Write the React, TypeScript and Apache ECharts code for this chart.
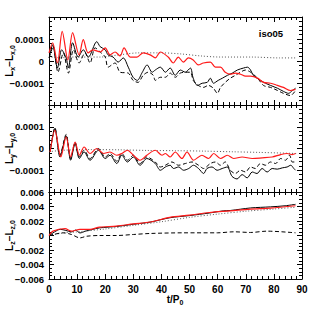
import React, { useEffect, useRef } from "react";
import * as echarts from "echarts";

// Panel 1: L_x - L_x,0 (units of 1e-5), pairs [t/P0, value]
const lxSolid = [[0.1,1.4],[1.3,7.4],[3.0,-3.2],[4.5,5.1],[6.1,1.4],[6.9,-3.2],[8.4,8.3],[10.4,1.8],[12.2,5.1],[14,1.8],[17,8.8],[18.2,6.5],[20,5.1],[21,2.8],[22.8,1.8],[24.6,-0.5],[26.4,1.4],[28.2,-2.8],[29.9,-7.4],[31.4,-8.8],[33.2,-5.1],[34.9,-1.8],[36.7,-5.1],[37.8,-4.1],[39.6,-2.8],[41.4,-5.1],[43.1,-3.2],[44.9,-6.5],[46.7,-4.1],[48.5,-5.1],[50.3,-3.2],[51.3,-7.8],[52.8,-11.1],[54.5,-10.1],[56.3,-9.7],[57.4,-7.8],[58.5,-10.1],[60.2,-8.8],[61.7,-7.8],[63.5,-6.5],[65.2,-5.5],[67,-4.1],[69.2,-3.2],[70.6,-2.8],[71.7,-4.1],[72.7,-6.5],[75.2,-8.8],[77,-10.1],[78.8,-11.1],[81.3,-12.4],[83.4,-13.8],[85.2,-14.7],[86.6,-13.4],[87.7,-12.4]];
const lxDashed = [[0,1.4],[1.5,6.5],[3.2,-5.1],[5.1,3.7],[6.9,-5.5],[8.7,5.1],[10.7,-0.9],[12.8,3.7],[14.6,-0.9],[16.4,6],[18.2,4.1],[20,1.8],[21,-2.8],[23.5,-0.9],[25.3,-5.1],[28.2,-5.5],[29.9,-8.8],[31.7,-9.7],[33.5,-6.5],[35.3,-5.1],[37.1,-6.5],[37.8,-8.8],[39.6,-7.4],[41.4,-7.4],[43.1,-5.5],[44.9,-7.4],[46.7,-5.5],[48.5,-5.1],[50.3,-5.1],[51.3,-8.8],[53.1,-11.1],[54.9,-12],[56.7,-11.1],[58.5,-12.4],[59.9,-14.7],[61,-12],[62.7,-9.7],[64.5,-7.8],[66.3,-6.5],[68.1,-5.1],[69.9,-4.1],[71.7,-5.1],[74.2,-7.8],[76.3,-11.1],[78.8,-12],[81.3,-13.4],[83.4,-14.7],[85.9,-15.7],[87.7,-13.4]];
const lxDotted = [[0,0.9],[1.4,1.8],[3.9,1.4],[7.5,1.8],[11,1.8],[18,1.8],[25,2.8],[32,3.7],[40,3.7],[47,3.2],[54,2.3],[61,1.8],[72,1.8],[82,1.4],[88,1.4]];
const lxRed = [[0,3.7],[1.3,8.3],[3.0,-0.9],[4.7,13.5],[6.7,0.5],[8.4,12.9],[10.7,2.8],[12.2,9.7],[13.9,3.7],[15.6,5.1],[18.2,4.1],[20,6],[21.7,2.8],[23.5,4.1],[25.3,2.3],[26.7,6],[28.9,1.8],[31.3,1.8],[33.5,3.7],[36,2.8],[37.8,1.4],[39.6,4.1],[42.4,1.8],[44.2,-0.9],[46,1.8],[47.8,-0.5],[49.6,1.4],[51.3,0.5],[53.1,-1.8],[54.9,-0.9],[57.4,-0.5],[59.2,-2.8],[61,-2.8],[62.7,-5.1],[64.5,-6],[66.3,-5.5],[68.1,-6],[69.9,-6.9],[71.7,-6.9],[74.2,-7.8],[76.3,-9.7],[78.8,-10.1],[81.3,-11.1],[83.4,-12],[85.9,-13.4],[87.7,-12.9]];

// Panel 2: L_y - L_y,0 (units of 1e-5)
const lySolid = [[0.4,-1.6],[2.1,9.2],[3.9,-3.9],[6.1,5.8],[7.7,-5.4],[9.3,2.3],[10.8,-4.6],[12.5,-1.6],[14.6,-5.4],[17.6,-0.8],[20,-4.6],[21.7,-3.1],[24.1,-6.9],[25.9,-3.1],[27.9,-6.2],[30,-3.9],[32.4,-7.7],[34.8,-4.6],[37.8,-6.9],[39.6,-10],[41.4,-8.5],[43.1,-7.7],[44.3,-9.2],[46.1,-8.5],[47.9,-10],[49.7,-9.2],[51.4,-7.7],[53.2,-9.2],[55,-11.5],[56.2,-9.2],[58,-8.5],[59.8,-10],[61.6,-9.2],[63.4,-8.5],[65.1,-12.8],[66.9,-14],[68.7,-12],[70.5,-13.5],[72.3,-10.8],[74,-11.5],[75.8,-9.2],[77.6,-10.8],[79.4,-9.2],[81.2,-9.5],[83,-8.9],[84.7,-8.5],[86,-7.7],[87.1,-9.2],[87.7,-10]];
const lyDashed = [[0.4,-1.6],[2.1,9.6],[3.9,-3.1],[6.1,6.5],[7.7,-4.6],[9.3,2.8],[10.8,-3.9],[12.5,-0.8],[14.6,-4.6],[17.6,0],[20,-3.9],[21.7,-2.3],[24.1,-5.8],[25.9,-2.3],[27.9,-5.4],[30,-3.1],[32.4,-6.9],[34.8,-3.9],[37.8,-6.2],[39.6,-8.5],[41.4,-7.7],[43.7,-6.2],[46.1,-7.7],[48.5,-6.9],[50.9,-6.2],[53.2,-7.7],[55,-9.2],[57.4,-6.9],[59.2,-6.2],[61,-7.7],[62.7,-6.2],[64.5,-10],[66.3,-11.5],[68.1,-10],[69.9,-10.8],[71.7,-8.5],[73.4,-9.2],[75.2,-6.9],[77,-7.7],[78.8,-6.2],[80.6,-6.9],[82.4,-4.6],[84.1,-5.4],[85.6,-3.1],[86.5,-6.2],[87.7,-6.2]];
const lyDotted = [[0,-1.5],[5,-0.8],[15,-0.5],[25,-0.6],[35,-0.9],[45,-1],[55,-1.2],[65,-1.5],[75,-1.8],[88,-2.3]];
const lyRed = [[0.4,-1.6],[2.1,8.4],[4.2,-3.9],[6.1,5.4],[7.7,-3.9],[9.3,3.0],[10.8,-3.1],[12.5,0.7],[14.6,-2.3],[17,0],[19.4,-2.3],[21.7,-1.6],[24.1,-3.1],[25.9,-2.3],[27.9,-0.8],[30,-3.1],[32.4,-5.4],[34.8,-3.1],[37.8,-0.8],[40.2,-3.1],[41.4,-2.3],[43.1,-3.9],[44.9,-1.6],[47.3,-4.6],[49.1,-1.6],[51.4,-5.4],[54.4,-3.1],[56.8,-4.6],[58.6,-2.3],[61,-4.6],[63.4,-3.1],[65.7,-4.6],[68.7,-3.9],[72.3,-4.6],[75.8,-4.3],[79.4,-3.9],[82.4,-2.8],[84.7,-2.3],[86.5,-2.8],[87.7,-2.3]];

// Panel 3: L_z - L_z,0 (units of 1e-3)
const lzSolid = [[0,0],[2,0.5],[4,0.85],[6,0.7],[8,0.5],[9.5,0.75],[11,0.35],[13,0.6],[15,0.8],[18,1.05],[24,1.25],[30,1.55],[36,1.85],[43,2.45],[50,2.75],[57,3.1],[62,3.4],[64.5,3.45],[71.7,3.8],[78.8,3.95],[84,4.1],[87.7,4.3]];
const lzDashed = [[0,0],[1.5,0.14],[5.1,0.37],[8,0.14],[11,-0.33],[13.4,-0.1],[18,0],[24,0],[30,0.14],[36,0.28],[48,0.37],[60,0.37],[65.7,0.51],[71.7,0.42],[77.6,0.6],[87.7,0.37]];
const lzDotted = [[0,0],[5,0.35],[10,0.5],[20,0.9],[30,1.4],[40,1.9],[50,2.5],[60,2.95],[70,3.35],[80,3.65],[87.7,3.9]];
const lzRed = [[0,0],[1.4,0.6],[5.7,0.94],[8,0.6],[11,0.84],[14.6,0.84],[18,1.16],[24,1.3],[30,1.6],[36,1.86],[43,2.5],[50,2.8],[57,3.17],[64.5,3.4],[71.7,3.64],[78.8,3.78],[87.7,4.1]];

const xTicks = { min: 0, max: 90, interval: 10 };
const panelNames = [["x", "x,0"], ["y", "y,0"], ["z", "z,0"]];

const FONT = "'Liberation Sans', Arial, sans-serif";

export default function App() {
  const ref = useRef<HTMLDivElement>(null);
  useEffect(() => {
    if (!ref.current) return;
    const chart = echarts.init(ref.current, null, { renderer: "svg" });
    const grids = [
      { left: 49, right: 17, top: 17, height: 88 },
      { left: 49, right: 17, top: 105, height: 87 },
      { left: 49, right: 17, top: 192, height: 87 },
    ];
    const axisLine = { show: true, onZero: false, lineStyle: { color: "#000", width: 1 } };
    const tick = { show: true, inside: true, length: 5, lineStyle: { color: "#000", width: 1 } };
    const labelStyle = { color: "#000", fontFamily: FONT, fontSize: 9.5, fontWeight: "bold" as const };

    const xAxes: any[] = [];
    const yAxes: any[] = [];
    grids.forEach((g, i) => {
      ["bottom", "top"].forEach((pos) => {
        xAxes.push({
          gridIndex: i,
          type: "value",
          position: pos,
          ...xTicks,
          axisLine,
          axisTick: tick,
          minorTick: { show: true, splitNumber: 5, length: 3, lineStyle: { color: "#000", width: 1 } },
          splitLine: { show: false },
          minorSplitLine: { show: false },
          axisLabel: { show: i === 2 && pos === "bottom", margin: 5, ...labelStyle, fontSize: 10 },
        });
      });
      const isZ = i === 2;
      ["left", "right"].forEach((pos) => {
        yAxes.push({
          gridIndex: i,
          type: "value",
          position: pos,
          min: isZ ? -6 : -20,
          max: isZ ? 6 : 20,
          interval: isZ ? 2 : 10,
          axisLine,
          axisTick: tick,
          minorTick: { show: true, splitNumber: isZ ? 4 : 5, length: 3, lineStyle: { color: "#000", width: 1 } },
          splitLine: { show: false },
          minorSplitLine: { show: false },
          axisLabel: {
            show: pos === "left",
            margin: 5,
            ...labelStyle,
            formatter: (v: number) => {
              if (!isZ && Math.abs(Math.abs(v) - 20) < 1e-6) return "";
              if (Math.abs(v) < 1e-9) return "0";
              const s = isZ ? Math.abs(v / 1000).toFixed(3) : Math.abs(v / 1e5).toFixed(4);
              return (v < 0 ? "\u2212" : "") + s;
            },
          },
        });
      });
    });

    const mk = (data: number[][], panel: number, kind: string) => {
      const style: any = { width: 1, color: "#000", type: "solid" };
      if (kind === "dashed") style.type = [4, 2.5];
      if (kind === "dotted") { style.type = [1, 2]; style.color = "#444"; style.width = 0.9; }
      if (kind === "red") { style.color = "#ff1a1a"; style.width = 1.2; }
      return {
        type: "line",
        xAxisIndex: panel * 2,
        yAxisIndex: panel * 2,
        data,
        showSymbol: false,
        symbol: "none",
        smooth: 0.3,
        lineStyle: style,
        z: kind === "red" ? 5 : 3,
      };
    };
    const panels = [
      [lxDotted, lxDashed, lxSolid, lxRed],
      [lyDotted, lyDashed, lySolid, lyRed],
      [lzDotted, lzDashed, lzSolid, lzRed],
    ];
    const kinds = ["dotted", "dashed", "solid", "red"];
    const series: any[] = [];
    panels.forEach((p, i) => p.forEach((d, k) => series.push(mk(d, i, kinds[k]))));

    const centers = [61, 148.5, 235.5];
    const rich = {
      m: { fontSize: 10, fontFamily: FONT, fontWeight: "bold", fill: "#000", lineHeight: 14, verticalAlign: "middle" },
      s: { fontSize: 7, fontFamily: FONT, fontWeight: "bold", fill: "#000", lineHeight: 14, verticalAlign: "bottom", padding: [5, 0, 0, 0] },
    };
    const graphic: any[] = panelNames.map((n, i) => ({
      type: "text",
      x: 9,
      y: centers[i],
      rotation: Math.PI / 2,
      style: {
        text: `{m|L}{s|${n[0]}}{m|\u2212L}{s|${n[1]}}`,
        align: "center",
        verticalAlign: "middle",
        fill: "#000",
        rich,
      },
    }));
    graphic.push({
      type: "text",
      x: 175,
      y: 299,
      style: { text: "{m|t/P}{s|0}", align: "center", verticalAlign: "middle", rich },
    });
    graphic.push({
      type: "text",
      x: 271,
      y: 33,
      style: { text: "iso05", align: "center", verticalAlign: "middle", fontSize: 9.5, fontFamily: FONT, fontWeight: "bold", fill: "#000" },
    });

    chart.setOption({
      animation: false,
      backgroundColor: "#fff",
      grid: grids,
      xAxis: xAxes,
      yAxis: yAxes,
      series,
      graphic,
    });
    return () => chart.dispose();
  }, []);
  return <div ref={ref} style={{ position: "fixed", left: 0, top: 0, width: 319, height: 319 }} />;
}
